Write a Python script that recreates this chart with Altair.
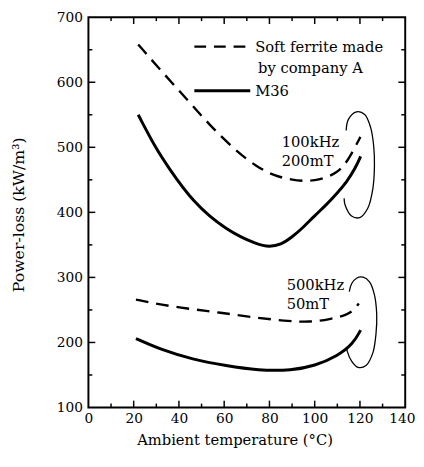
import altair as alt
import pandas as pd

FONT = "DejaVu Serif"

# ---- data ----
ferrite_100_t = [22, 32, 43.5, 53.6, 65, 74, 82, 90, 95, 100, 105, 110, 113, 116, 120.2]
ferrite_100_v = [658, 618, 574, 534, 495, 471, 456, 450, 448, 449, 453, 462, 472, 488, 516]

m36_100_t = [22, 30, 35, 46, 61, 75, 80, 85, 90, 95, 100, 105, 110, 114, 118, 120.3]
m36_100_v = [550, 497, 471, 416, 372, 350, 347, 350, 362, 377, 395, 411, 430, 446, 468, 486]

ferrite_500_t = [21, 32, 46, 58, 72, 87, 98, 107, 113, 117, 119.5]
ferrite_500_v = [266, 258, 251, 246, 239, 233, 231, 236, 241, 248, 260]

m36_500_t = [21, 32, 46, 61, 75, 90, 100, 110, 117, 120.3]
m36_500_v = [206, 189, 174, 164, 157, 157, 164, 179, 198, 219]

# bracket arcs grouping the curves at 120 degC
arc_100_t = [113.9, 114.9, 118.5, 122.1, 124.7, 126.1, 126.4, 125.7, 123.5, 119.9, 116.3, 113.4, 113.0]
arc_100_v = [525.7, 543, 554.4, 550.4, 530.6, 500.9, 471.2, 436.6, 406.8, 392, 394.4, 411.7, 421.7]
arc_500_t = [115.3, 116.3, 118.5, 121.4, 124.3, 126.4, 127.4, 127.1, 125.7, 122.8, 119.2, 116.3, 114.4, 114.1]
arc_500_v = [278, 290.3, 298.8, 300.3, 292.9, 273.1, 243.4, 213.7, 184, 165.1, 161.7, 171.5, 186.3, 192.9]

# annotations
ann_text = ["100kHz", "200mT", "500kHz", "50mT"]
ann_t = [85.4, 85.4, 87.6, 87.6]
ann_v = [508, 479, 288, 259]

legend_labels = ["Soft ferrite made", "by company A", "M36"]

x_ticks = [0, 20, 40, 60, 80, 100, 120, 140]
x_major = [20, 40, 60, 80, 100, 120]
x_minor = [10, 30, 50, 70, 90, 110, 130]
y_ticks = [100, 200, 300, 400, 500, 600, 700]
y_major = [200, 300, 400, 500, 600]
y_minor = [150, 250, 350, 450, 550, 650]

W, H = 323, 398

xscale = alt.Scale(domain=[0, 140], nice=False, zero=False)
yscale = alt.Scale(domain=[100, 700], nice=False, zero=False)
xaxis = alt.Axis(values=x_ticks, ticks=False, domain=False, grid=False, labelPadding=4,
                 labelFlush=False, labelOverlap=False,
                 labelAlign={"condition": {"test": "datum.value == 140", "value": "right"},
                             "value": "center"},
                 labelOffset={"condition": {"test": "datum.value == 140", "value": 10},
                              "value": 0},
                 title="Ambient temperature (°C)", titleX=149, titleY=33, titleFontSize=15,
                 titleBaseline="middle", titleAnchor="start", titleAlign="center")
yaxis = alt.Axis(values=y_ticks, ticks=False, domain=False, grid=False, labelPadding=6,
                 labelFlush=False, labelOverlap=False,
                 title="Power-loss (kW/m³)", titleX=-71, titleY=201, titleAngle=270,
                 titleBaseline="middle", titleAlign="center", titleAnchor="start")


def X(f="t"):
    return alt.X(f"{f}:Q", scale=xscale, axis=xaxis)


def Y(f="v"):
    return alt.Y(f"{f}:Q", scale=yscale, axis=yaxis)


def curve(t, v, width, dash=None, interp="basis"):
    df = pd.DataFrame({"t": t, "v": v, "o": list(range(len(t)))})
    kw = dict(color="black", strokeWidth=width, interpolate=interp)
    if dash:
        kw["strokeDash"] = dash
    return alt.Chart(df).mark_line(**kw).encode(x=X(), y=Y(), order="o:Q")


layers = [
    curve(ferrite_100_t, ferrite_100_v, 2.4, [13, 8]),
    curve(m36_100_t, m36_100_v, 3),
    curve(ferrite_500_t, ferrite_500_v, 2.4, [13, 8]),
    curve(m36_500_t, m36_500_v, 3),
    curve(arc_100_t, arc_100_v, 1.3, interp="catmull-rom"),
    curve(arc_500_t, arc_500_v, 1.3, interp="catmull-rom"),
]

ann_df = pd.DataFrame({"t": ann_t, "v": ann_v, "label": ann_text})
layers.append(
    alt.Chart(ann_df).mark_text(align="left", baseline="middle", font=FONT, fontSize=15,
                                color="black").encode(x=X(), y=Y(), text="label:N")
)


# inward ticks
def xticks(vals, length):
    df = pd.DataFrame({"t": vals})
    bottom = alt.Chart(df).mark_rule(color="black", strokeWidth=1.5).encode(
        x=X(), y=alt.value(H), y2=alt.value(H - length))
    top = alt.Chart(df).mark_rule(color="black", strokeWidth=1.5).encode(
        x=X(), y=alt.value(0), y2=alt.value(length))
    return [bottom, top]


def yticks(vals, length):
    df = pd.DataFrame({"v": vals})
    left = alt.Chart(df).mark_rule(color="black", strokeWidth=1.5).encode(
        y=Y(), x=alt.value(0), x2=alt.value(length))
    right = alt.Chart(df).mark_rule(color="black", strokeWidth=1.5).encode(
        y=Y(), x=alt.value(W), x2=alt.value(W - length))
    return [left, right]


layers += xticks(x_major, 7) + xticks(x_minor, 4) + yticks(y_major, 7) + yticks(y_minor, 4)

# legend
leg_df = pd.DataFrame({"label": [legend_labels[0]]})
layers.append(alt.Chart(leg_df).mark_rule(color="black", strokeWidth=2.4, strokeDash=[12, 8]).encode(
    x=alt.value(108), x2=alt.value(165), y=alt.value(30)))
layers.append(alt.Chart(leg_df).mark_rule(color="black", strokeWidth=3).encode(
    x=alt.value(108), x2=alt.value(165), y=alt.value(75)))
for lab, lx, ly in zip(legend_labels, [170, 173, 170], [30, 52, 75]):
    layers.append(
        alt.Chart(pd.DataFrame({"label": [lab]})).mark_text(
            align="left", baseline="middle", font=FONT, fontSize=15, color="black").encode(
            x=alt.value(lx), y=alt.value(ly), text="label:N")
    )

chart = alt.layer(*layers).properties(
    width=W, height=H,
    autosize=alt.AutoSizeParams(type="none"),
    padding={"left": 82, "top": 5, "right": 11, "bottom": 42},
).configure_view(stroke="black", strokeWidth=2).configure_axis(
    labelFont=FONT, labelFontSize=14, labelColor="black",
    titleFont=FONT, titleFontSize=16, titleColor="black", titleFontWeight="normal",
)

chart.save("out.html", embed_options={"renderer": "svg", "actions": False})
